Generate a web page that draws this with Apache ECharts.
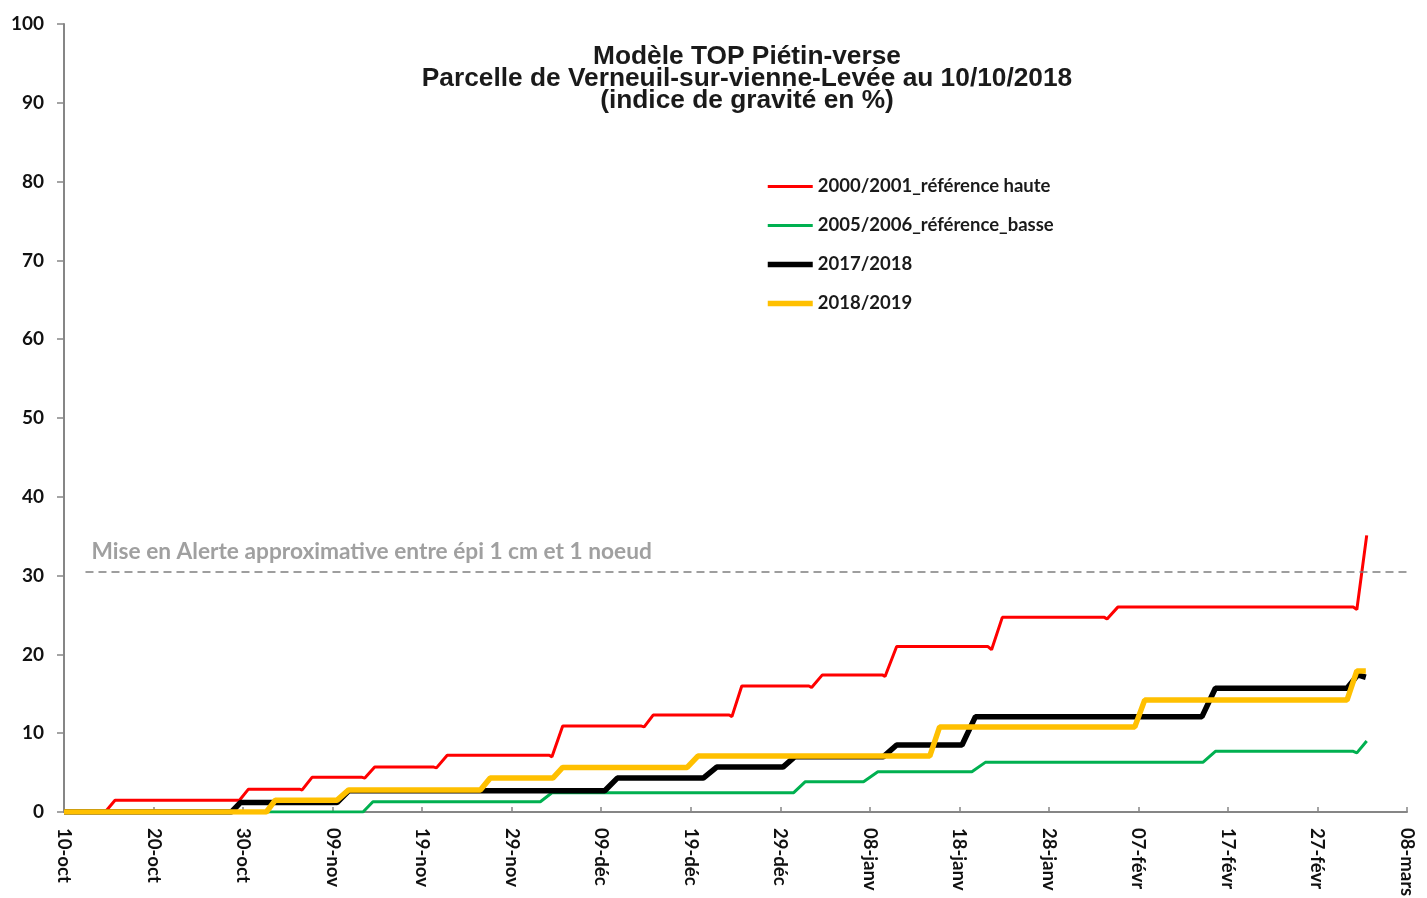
<!DOCTYPE html>
<html>
<head>
<meta charset="utf-8">
<title>Modèle TOP Piétin-verse</title>
<script src="https://cdn.jsdelivr.net/npm/echarts@6/dist/echarts.min.js"></script>
<style>
  html, body { margin: 0; padding: 0; background: #fff; }
  #chart { width: 1427px; height: 898px; }
</style>
</head>
<body>
<div id="chart"></div>
<script>
// x = jours depuis le 10-oct, y = indice de gravité (%)
const tickLabels = ['10-oct', '20-oct', '30-oct', '09-nov', '19-nov', '29-nov', '09-déc', '19-déc',
  '29-déc', '08-janv', '18-janv', '28-janv', '07-févr', '17-févr', '27-févr', '08-mars'];

const haute2000 = [[0, 0], [4.6, 0], [5.7, 1.5], [19.6, 1.5], [20.6, 2.9], [26.3, 2.9], [26.6, 2.8],
  [27.7, 4.4], [33.3, 4.4], [33.6, 4.3], [34.7, 5.7], [41.3, 5.7], [41.6, 5.6], [42.8, 7.2],
  [54.2, 7.2], [54.5, 7.0], [55.7, 10.9], [64.5, 10.9], [64.8, 10.8], [65.8, 12.3], [74.3, 12.3],
  [74.6, 12.1], [75.7, 16.0], [83.2, 16.0], [83.5, 15.8], [84.7, 17.4], [91.4, 17.4], [91.7, 17.2],
  [93.0, 21.0], [103.2, 21.0], [103.6, 20.6], [104.8, 24.7], [116.2, 24.7], [116.5, 24.5],
  [117.7, 26.0], [144.0, 26.0], [144.4, 25.7], [145.5, 35.1]];

const basse2005 = [[0, 0], [33.4, 0], [34.5, 1.3], [53.2, 1.3], [54.5, 2.45], [81.5, 2.45],
  [82.8, 3.85], [89.3, 3.85], [90.9, 5.1], [101.4, 5.1], [102.9, 6.3], [127.2, 6.3], [128.6, 7.7],
  [144.0, 7.7], [144.4, 7.5], [145.5, 9.0]];

const saison2017 = [[0, 0], [18.7, 0], [19.7, 1.2], [30.5, 1.2], [31.8, 2.7], [60.4, 2.7],
  [61.8, 4.3], [71.4, 4.3], [72.9, 5.7], [80.3, 5.7], [81.6, 7.0], [91.5, 7.0], [93.0, 8.5],
  [100.3, 8.5], [101.8, 12.1], [127.1, 12.1], [128.6, 15.7], [143.3, 15.7], [144.5, 17.4],
  [145.4, 17.1]];

const saison2018 = [[0, 0], [22.6, 0], [23.6, 1.5], [30.5, 1.5], [31.8, 2.8], [46.5, 2.8],
  [47.6, 4.3], [54.6, 4.3], [55.7, 5.65], [69.6, 5.65], [70.8, 7.1], [96.7, 7.1], [97.8, 10.8],
  [119.6, 10.8], [120.7, 14.2], [143.3, 14.2], [144.4, 17.9], [145.4, 17.9]];

const seuilAlerte = 30.5;

const chart = echarts.init(document.getElementById('chart'));

const option = {
  animation: false,
  title: {
    text: 'Modèle TOP Piétin-verse\nParcelle de Verneuil-sur-vienne-Levée au 10/10/2018\n(indice de gravité en %)',
    left: 747,
    top: 46,
    textAlign: 'center',
    padding: 0,
    textStyle: {
      fontFamily: 'Liberation Sans',
      fontWeight: 'bold',
      fontSize: 26.3,
      lineHeight: 22,
      color: '#1a1a1a'
    }
  },
  legend: {
    orient: 'vertical',
    left: 765,
    top: 177,
    padding: 0,
    itemWidth: 45,
    itemHeight: 14,
    itemGap: 20,
    itemStyle: { opacity: 0 },
    textStyle: {
      fontFamily: 'Lato',
      fontWeight: 'bold',
      fontSize: 18.5,
      lineHeight: 18,
      color: '#1a1a1a'
    },
    data: [
      { name: '2000/2001_référence haute', lineStyle: { width: 3 } },
      { name: '2005/2006_référence_basse', lineStyle: { width: 3 } },
      { name: '2017/2018', lineStyle: { width: 5.5 } },
      { name: '2018/2019', lineStyle: { width: 5.5 } }
    ]
  },
  grid: {
    left: 64,
    right: 20,
    top: 24,
    bottom: 86,
    outerBoundsMode: 'none'
  },
  xAxis: {
    type: 'value',
    min: 0,
    max: 150,
    interval: 10,
    splitLine: { show: false },
    axisLine: { lineStyle: { color: '#868686', width: 2 } },
    axisTick: { inside: true, length: 5, lineStyle: { color: '#868686', width: 1.5 } },
    axisLabel: {
      rotate: -90,
      margin: 16,
      fontFamily: 'Lato',
      fontWeight: 'bold',
      fontSize: 18.5,
      color: '#111',
      formatter: function (v) {
        return tickLabels[Math.round(v / 10)];
      }
    }
  },
  yAxis: {
    type: 'value',
    min: 0,
    max: 100,
    interval: 10,
    splitLine: { show: false },
    axisLine: { show: true, lineStyle: { color: '#868686', width: 2 } },
    axisTick: { show: true, length: 7, lineStyle: { color: '#868686', width: 1.5 } },
    axisLabel: {
      margin: 20,
      fontFamily: 'Lato',
      fontWeight: 'bold',
      fontSize: 19,
      color: '#111'
    }
  },
  series: [
    {
      name: '2000/2001_référence haute',
      type: 'line',
      symbol: 'none',
      data: haute2000,
      color: '#ff0000',
      lineStyle: { width: 3 },
      markLine: {
        silent: true,
        symbol: ['none', 'none'],
        lineStyle: { color: '#7f7f7f', type: [8, 5], width: 1.5 },
        label: {
          show: true,
          position: 'insideStartTop',
          distance: [6, 8],
          formatter: 'Mise en Alerte approximative entre épi 1 cm et 1 noeud',
          fontFamily: 'Lato',
          fontWeight: 'bold',
          fontSize: 22.7,
          color: '#a0a0a0'
        },
        data: [[{ coord: [2.4, seuilAlerte] }, { coord: [150, seuilAlerte] }]]
      }
    },
    {
      name: '2005/2006_référence_basse',
      type: 'line',
      symbol: 'none',
      data: basse2005,
      color: '#00b050',
      lineStyle: { width: 3 }
    },
    {
      name: '2017/2018',
      type: 'line',
      symbol: 'none',
      data: saison2017,
      color: '#000000',
      lineStyle: { width: 5.5 }
    },
    {
      name: '2018/2019',
      type: 'line',
      symbol: 'none',
      data: saison2018,
      color: '#ffc000',
      lineStyle: { width: 5.5 }
    }
  ]
};

chart.setOption(option);
</script>
</body>
</html>
